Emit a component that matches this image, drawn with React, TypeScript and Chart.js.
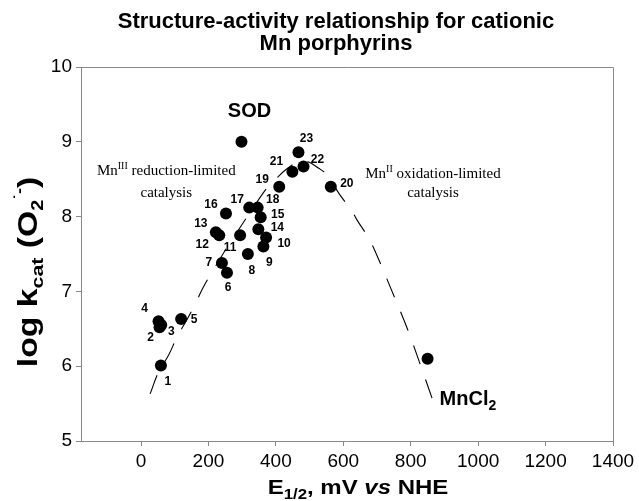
import { useEffect, useRef } from 'react';
import { Chart, registerables } from 'chart.js';

Chart.register(...registerables);

// ---- data ----
const compoundIds = ['1', '2', '3', '4', '5', '6', '7', '8', '9', '10', '11', '12', '13', '14', '15', '16', '17', '18', '19', '20', '21', '22', '23'];
const halfWavePotentials = [59, 55, 60, 52, 119, 255, 240, 317, 363, 371, 294, 232, 222, 348, 355, 252, 321, 346, 410, 563, 449, 482, 467];
const logKcatValues = [6.01, 6.52, 6.55, 6.6, 6.63, 7.25, 7.38, 7.5, 7.6, 7.72, 7.75, 7.75, 7.79, 7.83, 7.99, 8.04, 8.12, 8.12, 8.4, 8.4, 8.6, 8.67, 8.86];
// label offsets in px (dx, dy) relative to each point
const labelDx = [7, -9, 10, -14, 13, 1, -13, 4, 6, 18, -10, -17, -15, 19, 17, -15, -12, 15, -17, 16, -16, 14, 8];
const labelDy = [16, 10, 7, -13, 1, 15, 0, 17, 16, 6, 12, 9, -9, -2, -3, -9, -8, -8, -7, -3, -10, -7, -14];

const sodPotential = [298];
const sodLogKcat = [9.0];
const mnCl2Potential = [850];
const mnCl2LogKcat = [6.1];

const curvePotentials = [27, 52, 82, 107, 141, 166, 185, 215, 250, 289, 330, 373, 393, 430, 470, 492, 526, 551, 590, 625, 640, 674, 697, 740, 790, 830, 865];
const curveLogKcat = [5.63, 5.92, 6.15, 6.39, 6.66, 6.88, 7.06, 7.29, 7.55, 7.82, 8.1, 8.38, 8.47, 8.63, 8.74, 8.74, 8.65, 8.56, 8.29, 8.08, 7.96, 7.72, 7.51, 7.05, 6.5, 6.0, 5.55];

const xAxisMin = -178;
const xAxisMax = 1400;
const xTickValues = [0, 200, 400, 600, 800, 1000, 1200, 1400];
const yAxisMin = 5;
const yAxisMax = 10;
const yTickValues = [5, 6, 7, 8, 9, 10];

const SANS = "'Liberation Sans', Arial, sans-serif";
const SERIF = "'Liberation Serif', 'Times New Roman', serif";

type Part = { t: string; f: string; dy?: number };

function drawParts(
  ctx: CanvasRenderingContext2D,
  parts: Part[],
  x: number,
  y: number,
  align: 'left' | 'center' | 'right',
  stretch = 1
) {
  let w = 0;
  for (const p of parts) {
    ctx.font = p.f;
    w += ctx.measureText(p.t).width;
  }
  const sw = w * stretch;
  const start = align === 'left' ? x : align === 'center' ? x - sw / 2 : x - sw;
  ctx.save();
  ctx.translate(start, y);
  ctx.scale(stretch, 1);
  ctx.textAlign = 'left';
  ctx.textBaseline = 'alphabetic';
  let cx = 0;
  for (const p of parts) {
    ctx.font = p.f;
    ctx.fillText(p.t, cx, p.dy || 0);
    cx += ctx.measureText(p.t).width;
  }
  ctx.restore();
}

const annotationPlugin = {
  id: 'annotations',
  afterDraw(chart: any) {
    const ctx: CanvasRenderingContext2D = chart.ctx;
    const xs = chart.scales.x;
    const ys = chart.scales.y;
    const ca = chart.chartArea;
    ctx.save();
    // frame top/right
    ctx.strokeStyle = '#8a8a8a';
    ctx.lineWidth = 1;
    ctx.beginPath();
    ctx.moveTo(ca.left, ca.top + 0.5);
    ctx.lineTo(ca.right + 0.5, ca.top + 0.5);
    ctx.lineTo(ca.right + 0.5, ca.bottom);
    ctx.stroke();

    ctx.fillStyle = '#000';
    // title
    drawParts(ctx, [{ t: 'Structure-activity relationship for cationic', f: `bold 22px ${SANS}` }], 336, 28, 'center');
    drawParts(ctx, [{ t: 'Mn porphyrins', f: `bold 22px ${SANS}` }], 336, 50, 'center');

    // x title
    drawParts(
      ctx,
      [
        { t: 'E', f: `bold 20px ${SANS}` },
        { t: '1/2', f: `bold 14px ${SANS}`, dy: 5 },
        { t: ', mV ', f: `bold 20px ${SANS}` },
        { t: 'vs', f: `italic bold 20px ${SANS}` },
        { t: ' NHE', f: `bold 20px ${SANS}` },
      ],
      358,
      494,
      'center',
      1.2
    );

    // y title
    ctx.save();
    ctx.translate(37, 272);
    ctx.rotate(-Math.PI / 2);
    drawParts(
      ctx,
      [
        { t: 'log k', f: `bold 27px ${SANS}` },
        { t: 'cat', f: `bold 17px ${SANS}`, dy: 6 },
        { t: ' (O', f: `bold 27px ${SANS}` },
        { t: '2', f: `bold 16px ${SANS}`, dy: 6 },
        { t: '\u02D9-', f: `bold 14px ${SANS}`, dy: -13 },
        { t: ')', f: `bold 27px ${SANS}` },
      ],
      0,
      0,
      'center',
      1.25
    );
    ctx.restore();

    // point labels
    ctx.font = `bold 12px ${SANS}`;
    ctx.textAlign = 'center';
    ctx.textBaseline = 'middle';
    for (let i = 0; i < compoundIds.length; i++) {
      const px = xs.getPixelForValue(halfWavePotentials[i]) + labelDx[i];
      const py = ys.getPixelForValue(logKcatValues[i]) + labelDy[i];
      ctx.fillText(compoundIds[i], px, py);
    }

    // SOD
    const sx = xs.getPixelForValue(sodPotential[0]);
    const sy = ys.getPixelForValue(sodLogKcat[0]);
    drawParts(ctx, [{ t: 'SOD', f: `bold 20px ${SANS}` }], sx + 8, sy - 25, 'center');

    // MnCl2
    const mx = xs.getPixelForValue(mnCl2Potential[0]);
    const my = ys.getPixelForValue(mnCl2LogKcat[0]);
    drawParts(
      ctx,
      [
        { t: 'MnCl', f: `bold 20px ${SANS}` },
        { t: '2', f: `bold 14px ${SANS}`, dy: 5 },
      ],
      mx + 12,
      my + 46,
      'left'
    );

    // region labels
    const lx = xs.getPixelForValue(75);
    drawParts(
      ctx,
      [
        { t: 'Mn', f: `15px ${SERIF}` },
        { t: 'III', f: `10px ${SERIF}`, dy: -6 },
        { t: ' reduction-limited', f: `15px ${SERIF}` },
      ],
      lx,
      ys.getPixelForValue(8.56),
      'center'
    );
    drawParts(ctx, [{ t: 'catalysis', f: `15px ${SERIF}` }], lx, ys.getPixelForValue(8.26), 'center');

    const rx = xs.getPixelForValue(866);
    drawParts(
      ctx,
      [
        { t: 'Mn', f: `15px ${SERIF}` },
        { t: 'II', f: `10px ${SERIF}`, dy: -6 },
        { t: ' oxidation-limited', f: `15px ${SERIF}` },
      ],
      rx,
      ys.getPixelForValue(8.52),
      'center'
    );
    drawParts(ctx, [{ t: 'catalysis', f: `15px ${SERIF}` }], rx, ys.getPixelForValue(8.26), 'center');

    ctx.restore();
  },
};

export default function App() {
  const ref = useRef<HTMLCanvasElement | null>(null);

  useEffect(() => {
    document.body.style.margin = '0';
    const canvas = ref.current;
    if (!canvas) return;

    const compoundPoints = halfWavePotentials.map((x, i) => ({ x, y: logKcatValues[i] }));
    const sodPoints = sodPotential.map((x, i) => ({ x, y: sodLogKcat[i] }));
    const mnPoints = mnCl2Potential.map((x, i) => ({ x, y: mnCl2LogKcat[i] }));
    const curvePoints = curvePotentials.map((x, i) => ({ x, y: curveLogKcat[i] }));

    const pointStyle = {
      pointRadius: 6,
      pointBackgroundColor: '#000',
      pointBorderColor: '#000',
      pointBorderWidth: 0,
      showLine: false,
      order: 1,
    };

    const chart = new Chart(canvas, {
      type: 'scatter',
      data: {
        datasets: [
          { label: 'compounds', data: compoundPoints, ...pointStyle },
          { label: 'SOD', data: sodPoints, ...pointStyle },
          { label: 'MnCl2', data: mnPoints, ...pointStyle },
          {
            label: 'fit',
            data: curvePoints,
            showLine: true,
            pointRadius: 0,
            borderColor: '#000',
            borderWidth: 1.1,
            borderDash: [20, 16],
            tension: 0.4,
            fill: false,
            order: 2,
          } as any,
        ],
      },
      plugins: [annotationPlugin],
      options: {
        animation: false,
        responsive: false,
        devicePixelRatio: 1,
        layout: { padding: { top: 67, right: 26, left: 0, bottom: 0 } },
        plugins: {
          legend: { display: false },
          tooltip: { enabled: false },
          title: { display: false },
        },
        scales: {
          x: {
            type: 'linear',
            min: xAxisMin,
            max: xAxisMax,
            afterFit: (s: any) => {
              s.height = 60;
            },
            afterBuildTicks: (s: any) => {
              s.ticks = xTickValues.map((v) => ({ value: v }));
            },
            ticks: {
              color: '#000',
              font: { family: SANS, size: 19 },
              padding: 4,
              maxRotation: 0,
              autoSkip: false,
              callback: (v: any) => String(v),
            },
            grid: { drawOnChartArea: false, drawTicks: true, tickLength: 5, color: '#8a8a8a' },
            border: { display: true, color: '#8a8a8a', width: 1 },
          },
          y: {
            type: 'linear',
            min: yAxisMin,
            max: yAxisMax,
            afterFit: (s: any) => {
              s.width = 81;
            },
            afterBuildTicks: (s: any) => {
              s.ticks = yTickValues.map((v) => ({ value: v }));
            },
            ticks: {
              color: '#000',
              font: { family: SANS, size: 19 },
              padding: 4,
              autoSkip: false,
              callback: (v: any) => String(v),
            },
            grid: { drawOnChartArea: false, drawTicks: true, tickLength: 5, color: '#8a8a8a' },
            border: { display: true, color: '#8a8a8a', width: 1 },
          },
        },
      } as any,
    });

    return () => {
      chart.destroy();
    };
  }, []);

  return <canvas ref={ref} width={639} height={501} style={{ display: 'block' }} />;
}
